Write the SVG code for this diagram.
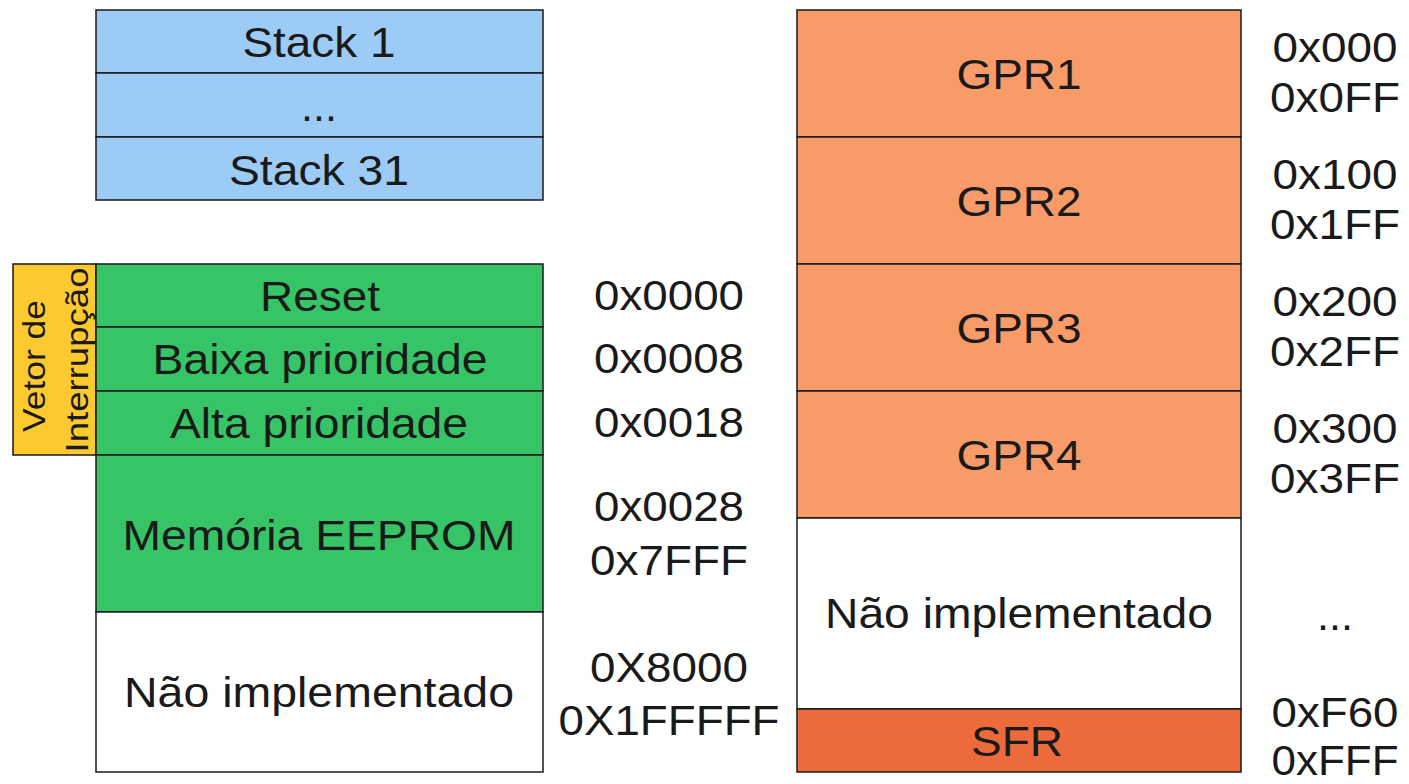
<svg xmlns="http://www.w3.org/2000/svg" width="1409" height="784" viewBox="0 0 1409 784">
<style>
.b{stroke:#1a1a1a;stroke-width:1.5}
.t{font-family:"Liberation Sans",Arial,sans-serif;font-size:42px;fill:#1a1a1a;text-anchor:middle}
.v{font-family:"Liberation Sans",Arial,sans-serif;font-size:31px;fill:#1a1a1a;text-anchor:middle}
.blue{fill:#9ccbf6}.green{fill:#36c466}.orange{fill:#f99b68}.sfr{fill:#ec6a3c}.yellow{fill:#fcc92f}.white{fill:#ffffff}
</style>
<rect width="1409" height="784" fill="#ffffff"/>
<g id="stack">
<rect class="b blue" x="96" y="10" width="447" height="63"/>
<rect class="b blue" x="96" y="73" width="447" height="64"/>
<rect class="b blue" x="96" y="137" width="447" height="63"/>
<text class="t" x="319" y="57" textLength="153" lengthAdjust="spacingAndGlyphs">Stack 1</text>
<text class="t" x="319" y="121" textLength="36" lengthAdjust="spacingAndGlyphs">...</text>
<text class="t" x="319" y="185" textLength="180" lengthAdjust="spacingAndGlyphs">Stack 31</text>
</g>
<g id="vetor">
<rect class="b yellow" x="13" y="264" width="83" height="191"/>
<text class="v" transform="translate(45,366) rotate(-90)" textLength="132" lengthAdjust="spacingAndGlyphs">Vetor de</text>
<text class="v" transform="translate(88,360) rotate(-90)" textLength="185" lengthAdjust="spacingAndGlyphs">Interrupção</text>
</g>
<g id="program-memory">
<rect class="b green" x="96" y="264" width="447" height="63"/>
<rect class="b green" x="96" y="327" width="447" height="64"/>
<rect class="b green" x="96" y="391" width="447" height="64"/>
<rect class="b green" x="96" y="455" width="447" height="157"/>
<rect class="b white" x="96" y="612" width="447" height="160"/>
<text class="t" x="320" y="311" textLength="120" lengthAdjust="spacingAndGlyphs">Reset</text>
<text class="t" x="320" y="374" textLength="335" lengthAdjust="spacingAndGlyphs">Baixa prioridade</text>
<text class="t" x="319" y="438" textLength="298" lengthAdjust="spacingAndGlyphs">Alta prioridade</text>
<text class="t" x="319" y="550" textLength="393" lengthAdjust="spacingAndGlyphs">Memória EEPROM</text>
<text class="t" x="319" y="707" textLength="390" lengthAdjust="spacingAndGlyphs">Não implementado</text>
</g>
<g id="program-addresses">
<text class="t" x="669" y="310" textLength="150" lengthAdjust="spacingAndGlyphs">0x0000</text>
<text class="t" x="669" y="373" textLength="150" lengthAdjust="spacingAndGlyphs">0x0008</text>
<text class="t" x="669" y="437" textLength="150" lengthAdjust="spacingAndGlyphs">0x0018</text>
<text class="t" x="669" y="521" textLength="150" lengthAdjust="spacingAndGlyphs">0x0028</text>
<text class="t" x="669" y="575" textLength="158" lengthAdjust="spacingAndGlyphs">0x7FFF</text>
<text class="t" x="669" y="682" textLength="158" lengthAdjust="spacingAndGlyphs">0X8000</text>
<text class="t" x="669" y="735" textLength="221" lengthAdjust="spacingAndGlyphs">0X1FFFFF</text>
</g>
<g id="data-memory">
<rect class="b orange" x="797" y="10" width="444" height="127"/>
<rect class="b orange" x="797" y="137" width="444" height="127"/>
<rect class="b orange" x="797" y="264" width="444" height="127"/>
<rect class="b orange" x="797" y="391" width="444" height="127"/>
<rect class="b white" x="797" y="518" width="444" height="191"/>
<rect class="b sfr" x="797" y="709" width="444" height="63"/>
<text class="t" x="1019" y="89" textLength="125" lengthAdjust="spacingAndGlyphs">GPR1</text>
<text class="t" x="1019" y="216" textLength="125" lengthAdjust="spacingAndGlyphs">GPR2</text>
<text class="t" x="1019" y="343" textLength="125" lengthAdjust="spacingAndGlyphs">GPR3</text>
<text class="t" x="1019" y="470" textLength="125" lengthAdjust="spacingAndGlyphs">GPR4</text>
<text class="t" x="1019" y="628" textLength="388" lengthAdjust="spacingAndGlyphs">Não implementado</text>
<text class="t" x="1017" y="756" textLength="92" lengthAdjust="spacingAndGlyphs">SFR</text>
</g>
<g id="data-addresses">
<text class="t" x="1335" y="62" textLength="125" lengthAdjust="spacingAndGlyphs">0x000</text>
<text class="t" x="1335" y="112" textLength="130" lengthAdjust="spacingAndGlyphs">0x0FF</text>
<text class="t" x="1335" y="189" textLength="125" lengthAdjust="spacingAndGlyphs">0x100</text>
<text class="t" x="1335" y="239" textLength="130" lengthAdjust="spacingAndGlyphs">0x1FF</text>
<text class="t" x="1335" y="316" textLength="125" lengthAdjust="spacingAndGlyphs">0x200</text>
<text class="t" x="1335" y="366" textLength="130" lengthAdjust="spacingAndGlyphs">0x2FF</text>
<text class="t" x="1335" y="443" textLength="125" lengthAdjust="spacingAndGlyphs">0x300</text>
<text class="t" x="1335" y="493" textLength="130" lengthAdjust="spacingAndGlyphs">0x3FF</text>
<text class="t" x="1335" y="630" textLength="36" lengthAdjust="spacingAndGlyphs">...</text>
<text class="t" x="1335" y="727" textLength="127" lengthAdjust="spacingAndGlyphs">0xF60</text>
<text class="t" x="1335" y="775" textLength="127" lengthAdjust="spacingAndGlyphs">0xFFF</text>
</g>
<g id="connectors"></g>
</svg>
